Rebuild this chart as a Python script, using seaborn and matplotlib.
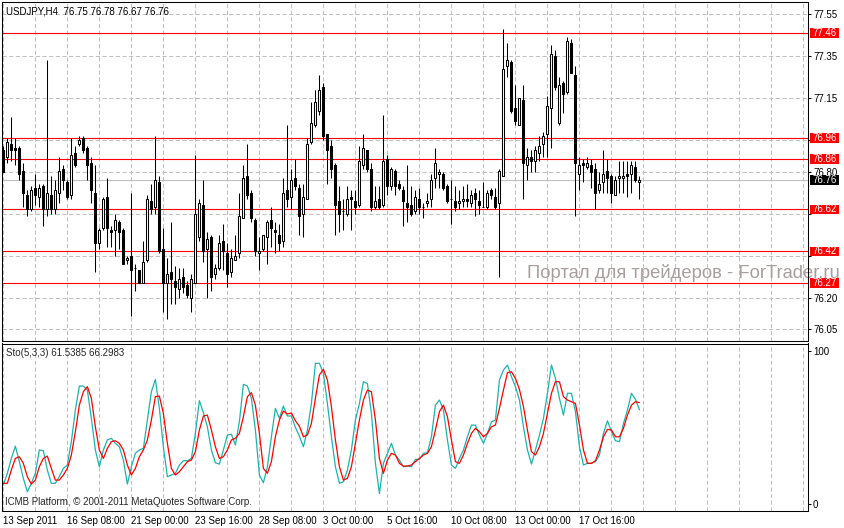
import numpy as np
import pandas as pd
import seaborn as sns
import matplotlib.pyplot as plt
from matplotlib import transforms
from matplotlib.patches import Rectangle

# USDJPY H4 candles
opens = [76.90, 76.87, 76.93, 76.91, 76.91, 76.80, 76.69, 76.62, 76.72, 76.68,
         76.73, 76.62, 76.69, 76.62, 76.70, 76.81, 76.75, 76.69, 76.89, 76.93,
         76.96, 76.91, 76.84, 76.70, 76.46, 76.53, 76.68, 76.52, 76.52, 76.56,
         76.52, 76.38, 76.40, 76.34, 76.33, 76.27, 76.38, 76.66, 76.63, 76.75,
         76.43, 76.27, 76.32, 76.28, 76.24, 76.30, 76.26, 76.20, 76.27, 76.49,
         76.64, 76.43, 76.49, 76.31, 76.34, 76.47, 76.41, 76.32, 76.38, 76.41,
         76.58, 76.78, 76.70, 76.57, 76.41, 76.43, 76.49, 76.57, 76.52, 76.50,
         76.47, 76.71, 76.68, 76.77, 76.72, 76.60, 76.67, 76.94, 77.02, 77.09,
         77.20, 76.98, 76.92, 76.83, 76.66, 76.61, 76.60, 76.68, 76.66, 76.64,
         76.83, 76.90, 76.81, 76.63, 76.67, 76.64, 76.86, 76.73, 76.80, 76.74,
         76.71, 76.65, 76.64, 76.61, 76.67, 76.63, 76.65, 76.67, 76.77, 76.79,
         76.79, 76.73, 76.67, 76.66, 76.65, 76.66, 76.67, 76.65, 76.70, 76.66,
         76.63, 76.63, 76.71, 76.68, 76.65, 76.78, 77.30, 77.32, 77.10, 77.02,
         77.14, 76.83, 76.87, 76.85, 76.89, 76.93, 76.98, 77.10, 77.35, 77.03,
         77.22, 77.18, 77.41, 77.26, 76.79, 76.84, 76.82, 76.83, 76.81, 76.71,
         76.75, 76.80, 76.78, 76.69, 76.77, 76.77, 76.79, 76.79, 76.82, 76.75]
highs = [76.92, 76.96, 77.06, 76.96, 76.92, 76.84, 76.71, 76.73, 76.79, 76.74,
         76.74, 77.33, 76.78, 76.76, 76.87, 76.83, 76.76, 76.96, 76.92, 76.97,
         76.97, 76.92, 76.87, 76.83, 76.53, 76.68, 76.77, 76.54, 76.60, 76.57,
         76.53, 76.40, 76.70, 76.36, 76.33, 76.47, 76.69, 76.74, 76.97, 76.78,
         76.53, 76.39, 76.56, 76.35, 76.34, 76.34, 76.28, 76.31, 76.88, 76.67,
         76.76, 76.51, 76.50, 76.36, 76.50, 76.55, 76.46, 76.43, 76.50, 76.70,
         76.83, 76.93, 76.71, 76.58, 76.49, 76.50, 76.57, 76.63, 76.56, 76.55,
         76.77, 77.02, 76.81, 76.86, 76.74, 76.74, 76.96, 77.13, 77.19, 77.26,
         77.22, 76.98, 76.95, 76.84, 76.73, 76.67, 76.73, 76.71, 76.71, 76.92,
         76.98, 76.90, 76.84, 76.73, 76.73, 77.07, 76.88, 76.82, 76.81, 76.76,
         76.73, 76.83, 76.73, 76.71, 76.72, 76.65, 76.70, 76.79, 76.91, 76.81,
         76.80, 76.74, 76.76, 76.73, 76.71, 76.73, 76.74, 76.71, 76.72, 76.71,
         76.75, 76.71, 76.72, 76.72, 76.81, 77.48, 77.41, 77.33, 77.21, 77.15,
         77.21, 76.91, 76.90, 76.92, 76.97, 76.99, 77.16, 77.40, 77.38, 77.25,
         77.23, 77.44, 77.43, 77.30, 76.87, 76.86, 76.87, 76.86, 76.84, 76.80,
         76.90, 76.86, 76.79, 76.78, 76.85, 76.85, 76.85, 76.85, 76.85, 76.78]
lows = [76.80, 76.84, 76.85, 76.83, 76.76, 76.63, 76.59, 76.61, 76.64, 76.63,
        76.54, 76.59, 76.60, 76.60, 76.65, 76.71, 76.67, 76.67, 76.82, 76.92,
        76.89, 76.76, 76.65, 76.32, 76.43, 76.52, 76.44, 76.44, 76.40, 76.43,
        76.36, 76.36, 76.11, 76.23, 76.27, 76.27, 76.37, 76.60, 76.60, 76.41,
        76.13, 76.10, 76.17, 76.17, 76.20, 76.22, 76.20, 76.13, 76.27, 76.47,
        76.37, 76.20, 76.23, 76.29, 76.33, 76.33, 76.25, 76.30, 76.38, 76.39,
        76.58, 76.67, 76.56, 76.40, 76.33, 76.42, 76.36, 76.44, 76.41, 76.42,
        76.44, 76.63, 76.62, 76.71, 76.50, 76.49, 76.67, 76.93, 77.01, 77.07,
        76.95, 76.74, 76.77, 76.50, 76.51, 76.52, 76.59, 76.52, 76.60, 76.63,
        76.81, 76.80, 76.61, 76.62, 76.62, 76.63, 76.69, 76.71, 76.69, 76.71,
        76.54, 76.56, 76.59, 76.60, 76.60, 76.58, 76.63, 76.63, 76.72, 76.72,
        76.71, 76.65, 76.55, 76.61, 76.62, 76.63, 76.63, 76.63, 76.59, 76.60,
        76.63, 76.62, 76.67, 76.62, 76.30, 76.78, 77.25, 77.08, 77.02, 77.02,
        76.67, 76.76, 76.80, 76.80, 76.85, 76.87, 76.87, 76.91, 77.19, 77.02,
        77.08, 77.17, 77.27, 76.59, 76.71, 76.75, 76.81, 76.72, 76.62, 76.70,
        76.70, 76.70, 76.65, 76.69, 76.70, 76.70, 76.68, 76.70, 76.75, 76.67]
closes = [76.80, 76.94, 76.90, 76.90, 76.79, 76.70, 76.62, 76.71, 76.69, 76.72,
          76.62, 76.70, 76.62, 76.71, 76.80, 76.76, 76.68, 76.88, 76.83, 76.95,
          76.90, 76.83, 76.71, 76.46, 76.52, 76.67, 76.53, 76.51, 76.57, 76.51,
          76.36, 76.39, 76.33, 76.34, 76.27, 76.37, 76.67, 76.62, 76.76, 76.42,
          76.27, 76.31, 76.29, 76.25, 76.29, 76.25, 76.21, 76.29, 76.60, 76.65,
          76.42, 76.48, 76.30, 76.34, 76.46, 76.42, 76.31, 76.39, 76.40, 76.59,
          76.77, 76.69, 76.58, 76.42, 76.42, 76.50, 76.56, 76.53, 76.51, 76.46,
          76.70, 76.67, 76.76, 76.73, 76.59, 76.68, 76.93, 77.03, 77.13, 77.19,
          76.97, 76.90, 76.81, 76.64, 76.60, 76.61, 76.67, 76.67, 76.63, 76.85,
          76.91, 76.81, 76.63, 76.66, 76.63, 76.85, 76.73, 76.81, 76.73, 76.72,
          76.66, 76.63, 76.60, 76.68, 76.63, 76.63, 76.66, 76.76, 76.84, 76.80,
          76.72, 76.66, 76.67, 76.63, 76.66, 76.67, 76.66, 76.69, 76.67, 76.64,
          76.63, 76.70, 76.69, 76.63, 76.80, 77.29, 77.33, 77.09, 77.04, 77.15,
          76.84, 76.87, 76.85, 76.90, 76.92, 76.97, 77.11, 77.36, 77.20, 77.21,
          77.17, 77.42, 77.27, 76.84, 76.83, 76.83, 76.84, 76.80, 76.70, 76.74,
          76.79, 76.77, 76.70, 76.76, 76.78, 76.78, 76.78, 76.83, 76.76, 76.76]

# Stochastic(5,3,3): main and signal lines
sto_main = [12.6, 20.2, 29.9, 37.9, 27.8, 16.9, 8.2, 13.7, 20.2, 35.4,
            34.9, 22.3, 13.7, 13.7, 18.0, 23.4, 25.6, 40.8, 61.4, 77.0,
            77.0, 74.4, 56.0, 35.4, 24.5, 35.4, 41.9, 43.0, 39.7, 37.5,
            28.8, 13.2, 24.5, 33.2, 35.4, 36.4, 54.9, 73.3, 81.3, 62.5,
            37.5, 18.0, 19.1, 20.2, 25.6, 28.4, 28.4, 29.9, 46.2, 67.5,
            59.7, 50.5, 35.4, 27.1, 26.2, 35.4, 45.1, 45.6, 38.6, 53.8,
            78.1, 77.0, 69.0, 48.4, 19.1, 14.1, 24.5, 44.0, 62.5, 56.0,
            64.0, 57.5, 57.5, 50.1, 44.4, 37.5, 48.4, 65.7, 91.8, 91.8,
            85.3, 65.7, 44.0, 24.5, 13.7, 14.7, 22.3, 35.4, 54.9, 65.7,
            79.8, 78.7, 59.2, 26.7, 7.1, 26.7, 33.2, 39.7, 32.1, 28.8,
            24.5, 24.9, 24.5, 29.3, 29.3, 33.2, 33.6, 44.0, 64.6, 67.9,
            61.4, 41.9, 25.6, 23.4, 29.9, 35.4, 44.0, 51.6, 51.6, 45.1,
            39.7, 46.2, 53.8, 54.9, 80.9, 87.4, 90.7, 83.1, 76.6, 67.9,
            50.5, 35.4, 26.2, 35.4, 45.1, 56.0, 72.3, 90.7, 82.0, 69.0,
            58.1, 72.3, 72.3, 60.3, 37.5, 25.6, 26.7, 26.7, 27.8, 32.1,
            46.2, 54.4, 47.3, 41.4, 40.8, 52.7, 61.4, 72.3, 68.3, 61.5385]
sto_signal = [13.7, 13.7, 22.3, 29.9, 31.0, 26.7, 18.0, 13.2, 15.8, 24.5,
              29.9, 31.4, 23.4, 15.8, 15.8, 19.1, 23.4, 32.1, 47.3, 64.6,
              73.3, 76.6, 69.0, 50.5, 35.4, 29.9, 36.4, 40.8, 41.4, 39.7,
              35.4, 25.6, 19.1, 23.4, 31.0, 35.4, 41.9, 54.9, 70.1, 70.5,
              59.2, 39.7, 23.4, 19.1, 21.2, 24.5, 27.8, 28.8, 34.3, 48.4,
              57.5, 58.1, 48.4, 37.5, 29.9, 31.0, 35.4, 41.9, 43.0, 46.2,
              57.1, 70.1, 72.7, 64.6, 46.2, 23.4, 20.2, 27.8, 44.0, 54.9,
              60.7, 58.8, 59.5, 54.4, 50.9, 44.0, 45.1, 52.7, 69.0, 84.2,
              87.9, 80.9, 63.6, 41.9, 24.5, 15.8, 16.9, 24.5, 39.7, 54.9,
              67.9, 74.4, 73.3, 54.9, 29.9, 20.2, 28.8, 33.2, 32.1, 26.7,
              24.9, 24.9, 25.6, 27.8, 29.9, 32.1, 33.2, 37.5, 48.4, 60.3,
              64.6, 57.1, 41.9, 27.8, 26.7, 32.1, 39.7, 46.2, 49.5, 47.3,
              44.0, 46.2, 50.5, 51.6, 62.5, 74.4, 85.7, 86.3, 82.0, 74.8,
              63.6, 48.4, 34.3, 32.1, 37.5, 46.2, 59.2, 72.3, 79.8, 79.8,
              70.1, 67.9, 66.8, 65.7, 51.6, 35.4, 26.7, 26.7, 28.4, 35.4,
              44.0, 48.8, 48.4, 44.0, 44.0, 49.5, 58.1, 64.6, 66.8, 66.2983]

level_prices = [77.46, 76.96, 76.86, 76.62, 76.42, 76.27]
price_ticks = [76.05, 76.20, 76.40, 76.60, 76.80, 76.95, 77.15, 77.35, 77.55]
# these scale labels sit under the level boxes and are not readable
hidden_ticks = [76.40, 76.60, 76.95]
date_labels = ['13 Sep 2011', '16 Sep 08:00', '21 Sep 00:00', '23 Sep 16:00',
               '28 Sep 08:00', '3 Oct 00:00', '5 Oct 16:00', '10 Oct 08:00',
               '13 Oct 00:00', '17 Oct 16:00']

sns.set_style("white")
plt.rcParams['font.family'] = ['Liberation Sans', 'DejaVu Sans']
plt.rcParams['lines.scale_dashes'] = False

W, H = 845, 528
fig = plt.figure(figsize=(W / 100, H / 100), dpi=100)
ax = fig.add_axes([2.3 / W, 1 - 341 / H, 805.2 / W, 339 / H])
ax2 = fig.add_axes([2.3 / W, 1 - 510.5 / H, 805.2 / W, 167 / H])

df = pd.DataFrame({'open': opens, 'high': highs, 'low': lows, 'close': closes})
df['bar'] = np.arange(len(df))
df['bull'] = df['close'] >= df['open']
df['body_lo'] = df[['open', 'close']].min(axis=1)
df['body'] = (df['close'] - df['open']).abs()

grid_kw = dict(color='#c0c0c0', lw=0.75, ls=(0, (3, 1.8)))
tick_pos = np.arange(0, 16 * len(date_labels), 16)

for a in (ax, ax2):
    a.set_xlim(-0.26, 201.0)
    a.set_xticks(tick_pos)
    a.set_xticks(np.arange(8, 201, 8), minor=True)
    a.grid(axis='x', which='both', **grid_kw)
    a.set_axisbelow(True)
    for s in a.spines.values():
        s.set_color('black')
        s.set_linewidth(0.75)
    a.yaxis.tick_right()
    a.tick_params(axis='y', direction='out', length=2.5, width=0.75,
                  labelsize=7, pad=1.5, colors='black')
    a.tick_params(axis='x', which='minor', length=0)

# price panel
ax.vlines(df['bar'], df['low'], df['high'], color='black', lw=0.75, zorder=3)
ax.bar(df['bar'], df['body'], bottom=df['body_lo'], width=0.5,
       color=np.where(df['bull'], 'white', 'black'), edgecolor='black',
       lw=0.75, zorder=4)
ax.set_ylim(75.993, 77.607)
ax.set_yticks(price_ticks)
ax.set_yticklabels(['' if p in hidden_ticks else f'{p:.2f}' for p in price_ticks])
ax.grid(axis='y', **grid_kw)
ax.tick_params(axis='x', which='major', length=0, labelbottom=False)

trans = transforms.blended_transform_factory(ax.transAxes, ax.transData)
box_h = 9.5 / 210


def price_box(val, face, line):
    ax.axhline(val, color=line, lw=0.8, zorder=2)
    ax.add_patch(Rectangle((1.0031, val - box_h / 2), 0.036, box_h, transform=trans,
                           facecolor=face, edgecolor='none', clip_on=False, zorder=5))
    ax.text(1.0065, val, f'{val:.2f}', transform=trans, color='white', fontsize=7,
            va='center', ha='left', clip_on=False, zorder=6)


for lv in level_prices:
    price_box(lv, '#ff0000', '#ff0000')
price_box(closes[-1], 'black', '#c0c0c0')

ax.text(6 / W, 1 - 11 / H, 'USDJPY,H4  %.2f %.2f %.2f %.2f'
        % (opens[-1], highs[-1], lows[-1], closes[-1]),
        transform=fig.transFigure, fontsize=7, va='center', ha='left', color='black')
ax.text(527 / W, 1 - 273 / H, 'Портал для трейдеров - ForTrader.ru',
        transform=fig.transFigure, fontsize=13.2, color='#a89e9e',
        va='center', ha='left', clip_on=False, zorder=1.5)

# stochastic panel
sto = pd.DataFrame({'bar': np.arange(len(sto_main)), 'main': sto_main,
                    'signal': sto_signal})
sns.lineplot(data=sto, x='bar', y='main', ax=ax2, color='#20b2aa', lw=0.9)
sns.lineplot(data=sto, x='bar', y='signal', ax=ax2, color='red', lw=0.9)
ax2.set_ylim(-4.0, 104.7)
ax2.set_yticks([0, 100])
ax2.set_xlabel('')
ax2.set_ylabel('')
ax2.set_xticklabels(date_labels)
ax2.tick_params(axis='x', which='major', direction='out', length=2.5, width=0.75,
                labelsize=7, pad=1.5, colors='black')
for lab in ax2.get_xticklabels():
    lab.set_ha('left')

ax2.text(6 / W, 1 - 353.5 / H, 'Sto(5,3,3) %.4f %.4f' % (sto_main[-1], sto_signal[-1]),
         transform=fig.transFigure, fontsize=7, va='center', ha='left')
ax2.text(5 / W, 1 - 502 / H, 'ICMB Platform, © 2001-2011 MetaQuotes Software Corp.',
         transform=fig.transFigure, fontsize=7, va='center', ha='left')

fig.savefig('out.png', dpi=100)
